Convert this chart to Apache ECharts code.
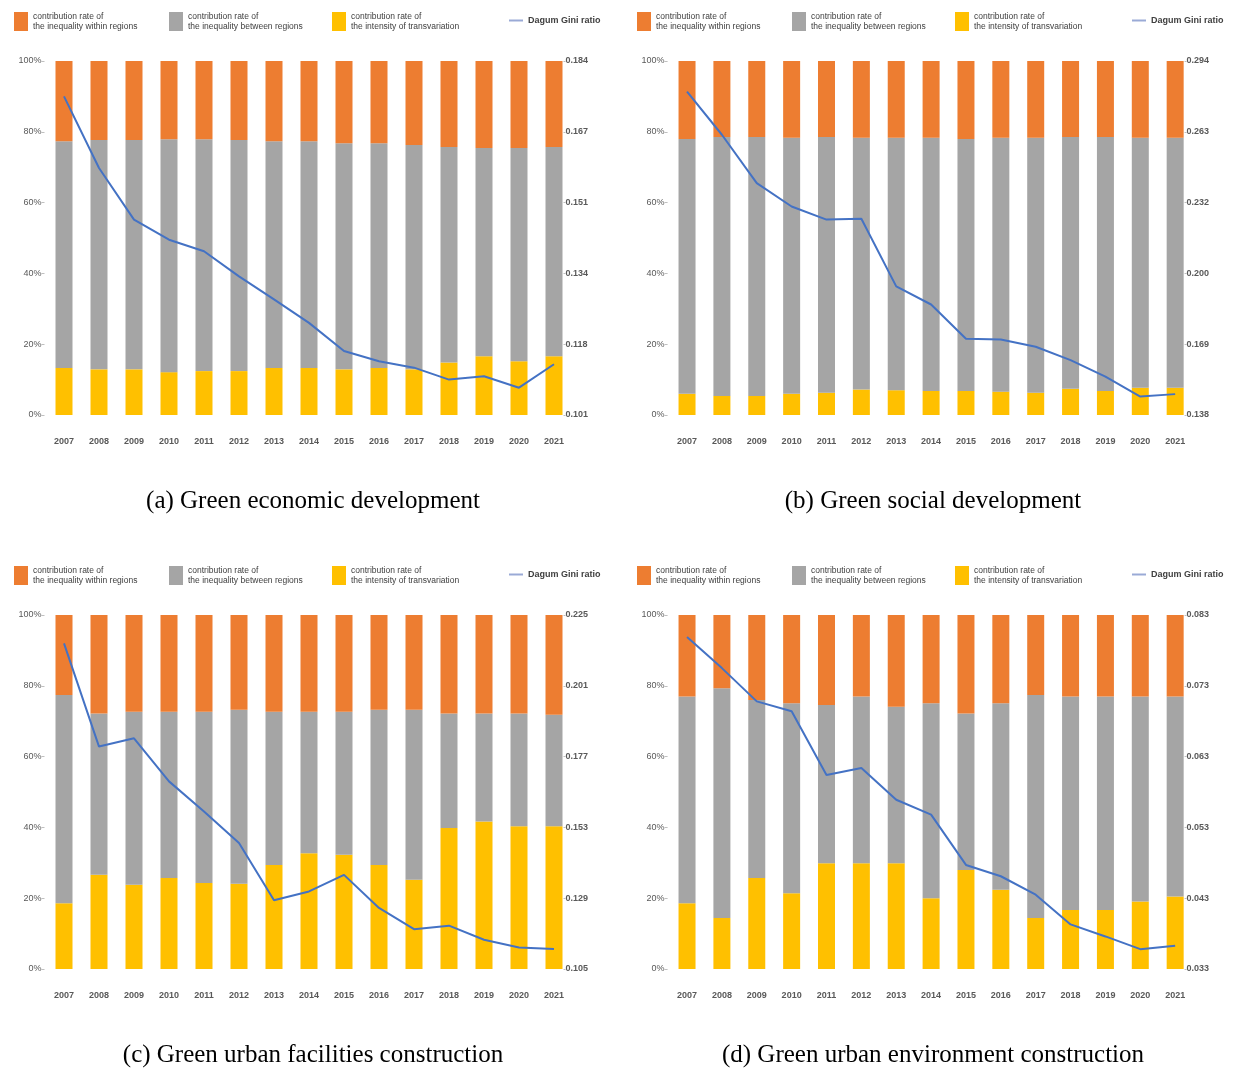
<!DOCTYPE html>
<html>
<head>
<meta charset="utf-8">
<script src="https://cdn.jsdelivr.net/npm/echarts@6/dist/echarts.min.js"></script>
<style>
  html, body { margin: 0; padding: 0; background: #fff; }
  #chart { width: 1234px; height: 1068px; }
</style>
</head>
<body>
<div id="chart"></div>
<script>
const years = ['2007', '2008', '2009', '2010', '2011', '2012', '2013', '2014', '2015', '2016', '2017', '2018', '2019', '2020', '2021'];

// (a) Green economic development
const econWithin = [22.7, 22.3, 22.3, 22.1, 22.1, 22.3, 22.7, 22.7, 23.2, 23.2, 23.7, 24.3, 24.6, 24.6, 24.3];
const econBetween = [64.0, 64.8, 64.8, 65.8, 65.5, 65.3, 64.0, 64.0, 63.9, 63.5, 63.4, 60.9, 58.8, 60.2, 59.1];
const econTrans = [13.3, 12.9, 12.9, 12.1, 12.4, 12.4, 13.3, 13.3, 12.9, 13.3, 12.9, 14.8, 16.6, 15.2, 16.6];
const econGini = [0.1757, 0.1589, 0.1468, 0.1421, 0.1394, 0.1335, 0.1281, 0.1226, 0.1160, 0.1136, 0.1121, 0.1093, 0.1101, 0.1074, 0.1129];

// (b) Green social development
const socWithin = [22.0, 21.5, 21.5, 21.7, 21.5, 21.7, 21.7, 21.7, 22.0, 21.7, 21.7, 21.5, 21.5, 21.7, 21.7];
const socBetween = [72.0, 73.1, 73.1, 72.3, 72.2, 71.1, 71.3, 71.5, 71.2, 71.7, 72.0, 71.1, 71.7, 70.6, 70.6];
const socTrans = [6.0, 5.4, 5.4, 6.0, 6.3, 7.2, 7.0, 6.8, 6.8, 6.6, 6.3, 7.4, 6.8, 7.7, 7.7];
const socGini = [0.2805, 0.2615, 0.2402, 0.2299, 0.2241, 0.2245, 0.1947, 0.1867, 0.1716, 0.1713, 0.1681, 0.1622, 0.1549, 0.1461, 0.1472];

// (c) Green urban facilities construction
const facWithin = [22.6, 27.8, 27.3, 27.3, 27.3, 26.8, 27.3, 27.3, 27.3, 26.8, 26.8, 27.8, 27.8, 27.8, 28.2];
const facBetween = [58.8, 45.6, 48.9, 47.0, 48.4, 49.1, 43.3, 40.0, 40.4, 43.8, 48.0, 32.4, 30.5, 31.9, 31.5];
const facTrans = [18.6, 26.6, 23.8, 25.7, 24.3, 24.1, 29.4, 32.7, 32.3, 29.4, 25.2, 39.8, 41.7, 40.3, 40.3];
const facGini = [0.2154, 0.1804, 0.1832, 0.1686, 0.1584, 0.1477, 0.1283, 0.1313, 0.1369, 0.1257, 0.1185, 0.1197, 0.1149, 0.1123, 0.1118];

// (d) Green urban environment construction
const envWithin = [23.0, 20.7, 24.0, 24.9, 25.4, 23.0, 25.9, 24.9, 27.8, 24.9, 22.6, 23.0, 23.0, 23.0, 23.0];
const envBetween = [58.4, 64.9, 50.3, 53.7, 44.7, 47.1, 44.2, 55.1, 44.2, 52.7, 63.0, 60.3, 60.3, 57.9, 56.5];
const envTrans = [18.6, 14.4, 25.7, 21.4, 29.9, 29.9, 29.9, 20.0, 28.0, 22.4, 14.4, 16.7, 16.7, 19.1, 20.5];
const envGini = [0.0799, 0.0755, 0.0708, 0.0694, 0.0604, 0.0614, 0.0569, 0.0548, 0.0477, 0.0461, 0.0435, 0.0393, 0.0376, 0.0358, 0.0363];

// right axis ends (tick labels 0.101 ... 0.184 etc.)
const giniMin = [0.101, 0.138, 0.105, 0.033];
const giniMax = [0.184, 0.294, 0.225, 0.083];

const captions = [
    '(a) Green economic development',
    '(b) Green social development',
    '(c) Green urban facilities construction',
    '(d) Green urban environment construction'
];

const NAME_WITHIN = 'contribution rate of\nthe inequality within regions';
const NAME_BETWEEN = 'contribution rate of\nthe inequality between regions';
const NAME_TRANS = 'contribution rate of\nthe intensity of transvariation';
const NAME_GINI = 'Dagum Gini ratio';

const panels = [
    { within: econWithin, between: econBetween, trans: econTrans, gini: econGini },
    { within: socWithin, between: socBetween, trans: socTrans, gini: socGini },
    { within: facWithin, between: facBetween, trans: facTrans, gini: facGini },
    { within: envWithin, between: envBetween, trans: envTrans, gini: envGini }
];

const COLORS = { within: '#ED7D31', between: '#A5A5A5', trans: '#FFC000', gini: '#4472C4' };
const FONT = 'Arial, "Liberation Sans", sans-serif';

// panel placement
const colX = [46.5, 669.6];
const colW = [525, 523];
const rowY = [61, 615];
const PLOT_H = 354;

const grid = [], xAxis = [], yAxis = [], series = [], legend = [], graphic = [];

panels.forEach((p, i) => {
    const col = i % 2;
    const row = Math.floor(i / 2);
    grid.push({ left: colX[col], top: rowY[row], width: colW[col], height: PLOT_H });

    xAxis.push({
        type: 'category',
        gridIndex: i,
        data: years,
        axisLine: { show: false },
        axisTick: { show: false },
        axisLabel: { margin: 22, fontSize: 9, color: '#595959', fontFamily: FONT, fontWeight: 'bold' }
    });

    yAxis.push({
        type: 'value',
        gridIndex: i,
        min: 0,
        max: 100,
        interval: 20,
        offset: 2,
        splitLine: { show: false },
        axisLine: { show: false },
        axisTick: { show: true, length: 3, lineStyle: { color: '#bfbfbf' } },
        axisLabel: { margin: 3, fontSize: 9, color: '#595959', fontFamily: FONT, formatter: v => v + '%' }
    });

    const step = (giniMax[i] - giniMin[i]) / 5;
    yAxis.push({
        type: 'value',
        gridIndex: i,
        position: 'right',
        min: giniMin[i],
        max: giniMax[i],
        interval: step,
        offset: -8,
        splitLine: { show: false },
        axisLine: { show: false },
        axisTick: { show: true, length: 2, lineStyle: { color: '#bfbfbf' } },
        axisLabel: { margin: 2, fontSize: 9, color: '#595959', fontFamily: FONT, fontWeight: 'bold', formatter: v => v.toFixed(3) }
    });

    const barBase = { type: 'bar', xAxisIndex: i, yAxisIndex: i * 2, stack: 'p' + i, barWidth: 17 };
    series.push(Object.assign({}, barBase, { name: NAME_TRANS, data: p.trans, itemStyle: { color: COLORS.trans } }));
    series.push(Object.assign({}, barBase, { name: NAME_BETWEEN, data: p.between, itemStyle: { color: COLORS.between } }));
    series.push(Object.assign({}, barBase, { name: NAME_WITHIN, data: p.within, itemStyle: { color: COLORS.within } }));
    series.push({
        type: 'line',
        name: NAME_GINI,
        xAxisIndex: i,
        yAxisIndex: i * 2 + 1,
        data: p.gini,
        symbol: 'none',
        z: 5,
        lineStyle: { color: COLORS.gini, width: 2 },
        itemStyle: { color: COLORS.gini }
    });

    // legend items, one component each so they sit where the reference puts them
    const lx = col === 0 ? 0 : 623;
    const ly = row === 0 ? 12 : 566;
    const legendText = { fontSize: 8.5, color: '#404040', fontFamily: FONT, lineHeight: 9.5 };
    [
        { name: NAME_WITHIN, x: 14 },
        { name: NAME_BETWEEN, x: 169 },
        { name: NAME_TRANS, x: 332 }
    ].forEach(it => {
        legend.push({
            left: lx + it.x,
            top: ly,
            padding: 0,
            itemWidth: 14,
            itemHeight: 19,
            itemGap: 0,
            icon: 'rect',
            selectedMode: false,
            data: [it.name],
            textStyle: legendText
        });
    });
    // thin line swatch for the Gini series
    legend.push({
        left: lx + 509,
        top: ly + 4,
        padding: 0,
        itemWidth: 14,
        itemHeight: 2,
        icon: 'rect',
        selectedMode: false,
        data: [NAME_GINI],
        itemStyle: { color: '#9aaad6' },
        textStyle: { fontSize: 9, color: '#404040', fontFamily: FONT, fontWeight: 'bold' }
    });

    graphic.push({
        type: 'text',
        x: col === 0 ? 313 : 933,
        y: row === 0 ? 501 : 1055,
        style: {
            text: captions[i],
            font: '25px "Liberation Serif", "Times New Roman", serif',
            fill: '#000',
            textAlign: 'center',
            textVerticalAlign: 'middle'
        }
    });
});

const chart = echarts.init(document.getElementById('chart'));
chart.setOption({
    animation: false,
    backgroundColor: '#fff',
    grid: grid,
    xAxis: xAxis,
    yAxis: yAxis,
    legend: legend,
    series: series,
    graphic: graphic
});
</script>
</body>
</html>
